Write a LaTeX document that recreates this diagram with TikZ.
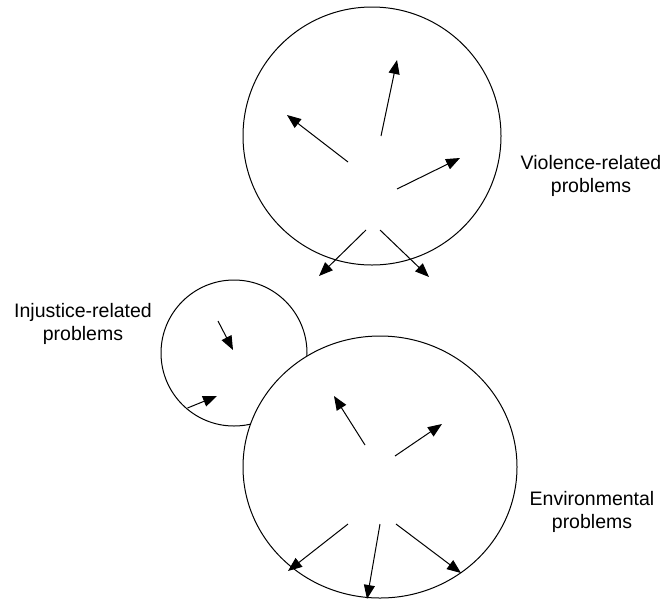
\documentclass[tikz,border=0pt]{standalone}
\usepackage{fontspec}
\setmainfont{Liberation Sans}
\usetikzlibrary{arrows.meta,shapes.geometric}
\begin{document}
\begin{tikzpicture}[x=1pt,y=-1pt,
  ring/.style={draw,line width=1pt,inner sep=0pt},
  arr/.style={line width=1pt,-{Triangle[length=14pt,width=11pt]}},
  lbl/.style={align=center,font=\fontsize{19.5}{23.5}\selectfont}]
\useasboundingbox (0,0) rectangle (671,600);
% circles
\node[ring,circle,minimum size=258pt] (viol) at (372,136) {};
\node[ring,circle,minimum size=146pt] (inj) at (234,353) {};
\node[ring,ellipse,fill=white,minimum width=274pt,minimum height=262pt] (env) at (380,467) {};
% labels
\node[lbl] (lviol) at (591,176) {Violence-related\\problems};
\node[lbl] (linj) at (83,324) {Injustice-related\\problems};
\node[lbl] (lenv) at (592,512) {Environmental\\problems};
% violence arrows
\coordinate (v1s) at (348,162); \coordinate (v1e) at (287,115);
\coordinate (v2s) at (381,136); \coordinate (v2e) at (397,60);
\coordinate (v3s) at (397,189); \coordinate (v3e) at (460,158);
\coordinate (v4s) at (366,230); \coordinate (v4e) at (319,276);
\coordinate (v5s) at (380,230); \coordinate (v5e) at (429,277);
\foreach \a in {1,...,5} \draw[arr] (v\a s) -- (v\a e);
% injustice arrows
\coordinate (i1s) at (218,321); \coordinate (i1e) at (233,350);
\coordinate (i2s) at (187.5,408); \coordinate (i2e) at (217,396);
\foreach \a in {1,2} \draw[arr] (i\a s) -- (i\a e);
% environmental arrows
\coordinate (e1s) at (365,445); \coordinate (e1e) at (334,396);
\coordinate (e2s) at (395,456); \coordinate (e2e) at (442,424);
\coordinate (e3s) at (348,524); \coordinate (e3e) at (288,571);
\coordinate (e4s) at (380,524); \coordinate (e4e) at (367,599);
\coordinate (e5s) at (396,524); \coordinate (e5e) at (461,573);
\foreach \a in {1,...,5} \draw[arr] (e\a s) -- (e\a e);
\end{tikzpicture}
\end{document}
